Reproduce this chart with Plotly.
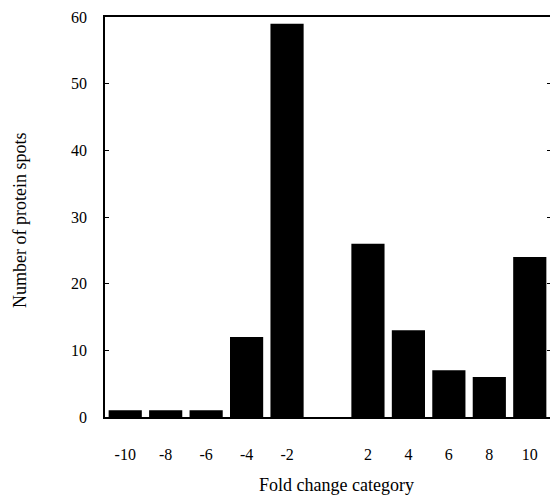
import plotly.graph_objects as go

categories = [-10, -8, -6, -4, -2, 2, 4, 6, 8, 10]
spot_counts = [1, 1, 1, 12, 59, 26, 13, 7, 6, 24]
x_tick_labels = ["-10", "-8", "-6", "-4", "-2", "2", "4", "6", "8", "10"]
y_ticks = [0, 10, 20, 30, 40, 50, 60]

FONT = "Liberation Serif, Times New Roman, serif"
W, H = 551, 495
L, R, T, B = 105, 1, 17, 78
pw, ph = W - L - R, H - T - B


def px_to_paper(px, py):
    return (px - L) / pw, (H - B - py) / ph


fig = go.Figure()
fig.add_trace(go.Bar(
    x=categories, y=spot_counts,
    width=1.64,
    marker=dict(color="black", line=dict(width=0)),
    showlegend=False,
))
# invisible trace so the right-side ticks are drawn
fig.add_trace(go.Scatter(x=[categories[0]], y=[0], yaxis="y2", mode="markers",
                         marker=dict(opacity=0), showlegend=False, hoverinfo="skip"))

ax, ay = px_to_paper(336, 485)
bx, by = px_to_paper(20, 221)

fig.update_layout(
    width=W, height=H,
    margin=dict(l=L, r=R, t=T, b=B),
    paper_bgcolor="white", plot_bgcolor="white",
    font=dict(family=FONT, size=16, color="black"),
    xaxis=dict(
        range=[-11, 11], tickmode="array", tickvals=categories, ticktext=x_tick_labels,
        showgrid=False, zeroline=False, showline=True, linecolor="black", linewidth=1.5,
        mirror=True, ticks="", ticklabelstandoff=22,
        tickfont=dict(family=FONT, size=16),
    ),
    yaxis=dict(
        range=[0, 60], tickmode="array", tickvals=y_ticks,
        showgrid=False, zeroline=False, showline=True, linecolor="black", linewidth=1.5,
        ticks="inside", ticklen=4, tickcolor="black", ticklabelstandoff=13,
        tickfont=dict(family=FONT, size=16),
    ),
    yaxis2=dict(
        range=[0, 60], overlaying="y", side="right", tickmode="array", tickvals=y_ticks,
        showgrid=False, zeroline=False, showline=False, showticklabels=False,
        ticks="inside", ticklen=3, tickcolor="black",
    ),
    annotations=[
        dict(text="Fold change category", x=ax, y=ay, xref="paper", yref="paper",
             xanchor="center", yanchor="middle",
             showarrow=False, font=dict(family=FONT, size=18)),
        dict(text="Number of protein spots", x=bx, y=by, xref="paper", yref="paper",
             xanchor="center", yanchor="middle", textangle=-90,
             showarrow=False, font=dict(family=FONT, size=18)),
    ],
)

fig.write_html("out.html", config={"displayModeBar": False},
               post_script="document.body.style.margin='0';")
